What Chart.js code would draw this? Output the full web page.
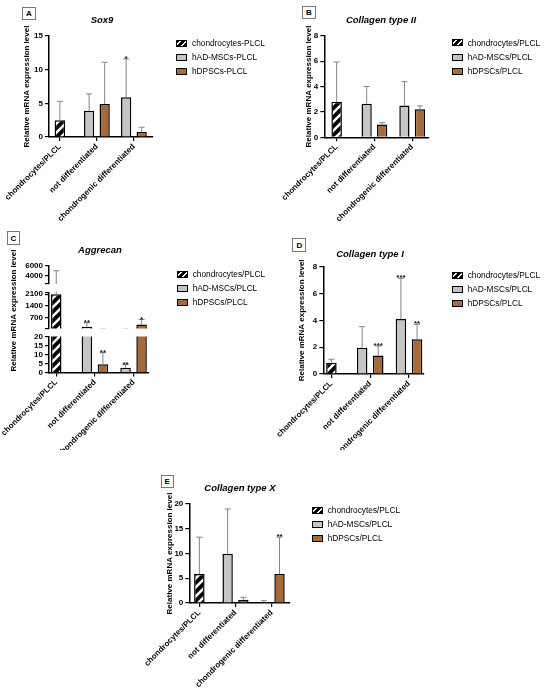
<!DOCTYPE html>
<html>
<head>
<meta charset="utf-8">
<script src="https://cdn.jsdelivr.net/npm/chart.js@4.4.1/dist/chart.umd.min.js"></script>
<style>
  html, body { margin: 0; padding: 0; background: #fff; }
  #page { position: relative; width: 550px; height: 688px; overflow: hidden; font-family: "Liberation Sans", Arial, sans-serif; color: #000; }
  canvas.cv { position: absolute; }
  .letter { position: absolute; border: 1px solid #777; box-sizing: border-box; font-weight: bold; font-size: 8px; display: flex; align-items: center; justify-content: center; background: #fff; }
  .ptitle { position: absolute; font-weight: bold; font-style: italic; font-size: 9.5px; white-space: nowrap; transform: translate(-50%, -50%); }
  .li { position: absolute; height: 10px; display: flex; align-items: center; white-space: nowrap; font-size: 8.3px; }
  .sw { width: 11px; height: 7px; border: 1.3px solid #000; box-sizing: border-box; margin-right: 5px; flex: none; }
</style>
</head>
<body>
<div id="page"></div>
<script>
// ---------- DATA ----------
const categories = ['chondrocytes/PLCL', 'not differentiated', 'chondrogenic differentiated'];
const legendLabelsSox9 = ['chondrocytes-PLCL', 'hAD-MSCs-PLCL', 'hDPSCs-PLCL'];
const legendLabels = ['chondrocytes/PLCL', 'hAD-MSCs/PLCL', 'hDPSCs/PLCL'];
const yAxisTitle = 'Relative mRNA expression level';

// A  Sox9
const sox9Chondrocytes = [2.5, null, null];
const sox9AdMscs = [null, 3.9, 5.9];
const sox9Dpscs = [null, 4.9, 0.75];
const sox9ChondrocytesUpper = [5.3, null, null];
const sox9AdMscsUpper = [null, 6.4, 11.6];
const sox9DpscsUpper = [null, 11.1, 1.45];
const sox9AdMscsStars = ['', '', '*'];
const sox9DpscsStars = ['', '', ''];
const sox9Ticks = [0, 5, 10, 15];

// B  Collagen type II
const col2Chondrocytes = [2.8, null, null];
const col2AdMscs = [null, 2.65, 2.5];
const col2Dpscs = [null, 1.0, 2.2];
const col2ChondrocytesUpper = [5.93, null, null];
const col2AdMscsUpper = [null, 4.0, 4.38];
const col2DpscsUpper = [null, 1.15, 2.47];
const col2Ticks = [0, 2, 4, 6, 8];

// C  Aggrecan (broken axis)
const aggChondrocytes = [2100, null, null];
const aggAdMscs = [null, 140, 2.6];
const aggDpscs = [null, 4.6, 280];
const aggChondrocytesUpper = [5000, null, null];
const aggAdMscsUpper = [null, 380, 4.4];
const aggDpscsUpper = [null, 11, 580];
const aggAdMscsStars = ['', '**', '**'];
const aggDpscsStars = ['', '**', '*'];
const aggTicksLow = [0, 5, 10, 15, 20];
const aggTicksMid = [700, 1400, 2100];
const aggTicksHigh = [4000, 6000];
const aggRangeLow = [0, 20];
const aggRangeMid = [40, 2200];
const aggRangeHigh = [2200, 6000];

// D  Collagen type I
const col1Chondrocytes = [0.84, null, null];
const col1AdMscs = [null, 1.96, 4.1];
const col1Dpscs = [null, 1.37, 2.6];
const col1ChondrocytesUpper = [1.1, null, null];
const col1AdMscsUpper = [null, 3.53, 7.13];
const col1DpscsUpper = [null, 2.09, 3.7];
const col1AdMscsStars = ['', '', '***'];
const col1DpscsStars = ['', '***', '**'];
const col1Ticks = [0, 2, 4, 6, 8];

// E  Collagen type X
const col10Chondrocytes = [5.84, null, null];
const col10AdMscs = [null, 9.93, 0.2];
const col10Dpscs = [null, 0.67, 5.84];
const col10ChondrocytesUpper = [13.3, null, null];
const col10AdMscsUpper = [null, 19.0, 0.47];
const col10DpscsUpper = [null, 1.14, 13.3];
const col10DpscsStars = ['', '', '**'];
const col10Ticks = [0, 5, 10, 15, 20];

// ---------- STYLE ----------
const FONT = '"Liberation Sans", Arial, sans-serif';
const GRAY = '#c5c5c5';
const BROWN = '#a76a3b';
const ERR = '#858585';

const page = document.getElementById('page');

function hatchFor(ctx) {
  const t = document.createElement('canvas');
  t.width = 9; t.height = 9;
  const g = t.getContext('2d');
  g.fillStyle = '#000'; g.fillRect(0, 0, 9, 9);
  g.strokeStyle = '#fff'; g.lineWidth = 2.6;
  g.beginPath();
  g.moveTo(-2, 11); g.lineTo(11, -2);
  g.moveTo(-2, 2); g.lineTo(2, -2);
  g.moveTo(7, 11); g.lineTo(11, 7);
  g.stroke();
  return ctx.createPattern(t, 'repeat');
}

const errorBarPlugin = {
  id: 'errorBars',
  afterDatasetsDraw(chart) {
    const {ctx, chartArea} = chart;
    const yScale = chart.scales.y;
    chart.data.datasets.forEach((ds, di) => {
      const meta = chart.getDatasetMeta(di);
      meta.data.forEach((bar, i) => {
        const v = ds.data[i];
        const u = ds.upper ? ds.upper[i] : null;
        if (v == null || u == null) return;
        const x = bar.x;
        const y0 = yScale.getPixelForValue(v);
        const y1 = yScale.getPixelForValue(u);
        ctx.save();
        ctx.beginPath();
        ctx.rect(chartArea.left - 10, chartArea.top - 1, chartArea.right - chartArea.left + 20, chartArea.bottom - chartArea.top + 1);
        ctx.clip();
        ctx.strokeStyle = ERR;
        ctx.lineWidth = 1;
        ctx.beginPath();
        ctx.moveTo(x, y0);
        ctx.lineTo(x, y1);
        ctx.moveTo(x - 3, y1);
        ctx.lineTo(x + 3, y1);
        ctx.stroke();
        ctx.restore();
        const s = ds.stars ? ds.stars[i] : '';
        if (s && y1 >= chartArea.top - 1 && y1 <= chartArea.bottom) {
          ctx.save();
          ctx.fillStyle = '#111';
          ctx.font = 'bold 8px ' + FONT;
          ctx.textAlign = 'center';
          ctx.textBaseline = 'alphabetic';
          ctx.fillText(s, x, y1 + 2);
          ctx.restore();
        }
      });
    });
  }
};

function makeChart(p, seg) {
  const canvas = document.createElement('canvas');
  canvas.className = 'cv';
  canvas.width = p.width;
  canvas.height = p.height;
  canvas.style.left = p.left + 'px';
  canvas.style.top = p.top + 'px';
  page.appendChild(canvas);
  const ctx = canvas.getContext('2d');
  const fills = [hatchFor(ctx), GRAY, BROWN];
  const datasets = p.series.map((s, k) => ({
    label: p.legend[k],
    data: s.values,
    upper: s.upper,
    stars: s.stars || null,
    backgroundColor: fills[k],
    borderColor: '#000',
    borderWidth: 1.5,
    borderSkipped: 'start',
    clip: 0,
    skipNull: true,
    categoryPercentage: p.catPct,
    barPercentage: 0.66,
    maxBarThickness: 10.5
  }));
  const labelSet = new Set(seg.ticks);
  const allTicks = seg.ticks.concat(seg.breaks || []).sort((a, b) => a - b);
  const tickFont = {family: FONT, size: 8, weight: 'bold'};
  new Chart(canvas, {
    type: 'bar',
    data: {labels: categories, datasets},
    plugins: [errorBarPlugin],
    options: {
      responsive: false,
      animation: false,
      events: [],
      layout: {padding: {left: 0, top: seg.top, right: p.width - p.area.r, bottom: seg.showX ? 0 : p.height - seg.bottom}},
      plugins: {legend: {display: false}, title: {display: false}, tooltip: {enabled: false}},
      scales: {
        x: {
          type: 'category',
          offset: true,
          display: seg.showX,
          grid: {display: true, offset: false, drawOnChartArea: false, drawTicks: true, tickLength: 4, color: '#000', lineWidth: 1.2},
          border: {display: true, color: '#000', width: 1.5},
          ticks: {autoSkip: false, minRotation: 45, maxRotation: 45, padding: 1, color: '#000', font: tickFont},
          afterBuildTicks: (sc) => {
            if ('_startValue' in sc) {
              sc._startValue = -(p.c0 - p.area.l) / p.step;
              sc._valueRange = (p.area.r - p.area.l) / p.step;
            }
          },
          afterFit: (sc) => {
            sc.height = seg.showX ? p.height - seg.bottom : 0;
            sc.paddingLeft = 0; sc.paddingRight = 0;
          }
        },
        y: {
          type: 'linear',
          min: seg.range[0],
          max: seg.range[1],
          afterBuildTicks: (sc) => { sc.ticks = allTicks.map(v => ({value: v})); },
          grid: {display: true, drawOnChartArea: false, drawTicks: true, tickLength: 4, color: '#000', lineWidth: 1.2},
          border: {display: true, color: '#000', width: 1.5},
          ticks: {
            autoSkip: false,
            color: '#000', font: tickFont, padding: 2,
            callback: (v) => labelSet.has(v) ? String(v) : ''
          },
          title: {
            display: !!seg.yTitle,
            text: yAxisTitle,
            color: '#000',
            font: {family: FONT, size: 8, weight: 'bold', lineHeight: 1.2},
            padding: {top: p.yTitleX - 4.8, bottom: 0}
          },
          afterFit: (sc) => {
            sc.width = p.area.l;
            sc.paddingTop = 0; sc.paddingBottom = 0;
          }
        }
      }
    }
  });
}

function decorate(p) {
  const b = document.createElement('div');
  b.className = 'letter';
  b.textContent = p.letter;
  Object.assign(b.style, {left: p.box.x + 'px', top: p.box.y + 'px', width: p.box.w + 'px', height: p.box.h + 'px'});
  page.appendChild(b);
  const t = document.createElement('div');
  t.className = 'ptitle';
  t.textContent = p.title;
  Object.assign(t.style, {left: p.titlePos.x + 'px', top: p.titlePos.y + 'px'});
  page.appendChild(t);
  const swatchStyles = [
    'background: repeating-linear-gradient(-45deg, #000 0px, #000 2.6px, #fff 2.6px, #fff 4.2px);',
    'background:' + GRAY + ';',
    'background:' + BROWN + ';'
  ];
  p.legend.forEach((lab, k) => {
    const li = document.createElement('div');
    li.className = 'li';
    li.style.left = p.legendX + 'px';
    li.style.top = (p.legendY[k] - 5) + 'px';
    const sw = document.createElement('span');
    sw.className = 'sw';
    sw.setAttribute('style', swatchStyles[k]);
    const tx = document.createElement('span');
    tx.textContent = lab;
    li.appendChild(sw); li.appendChild(tx);
    page.appendChild(li);
  });
}

// ---------- PANELS (layout only) ----------
const panels = [
  {
    letter: 'A', title: 'Sox9', left: 0, top: 0, width: 175, height: 225,
    area: {l: 49, r: 153, t: 36, b: 137}, c0: 59.9, step: 37, catPct: 0.84, yTitleX: 26.7,
    titlePos: {x: 102, y: 19.3}, box: {x: 22, y: 7, w: 14, h: 13},
    legend: legendLabelsSox9, legendX: 176, legendY: [43, 57, 71],
    series: [
      {values: sox9Chondrocytes, upper: sox9ChondrocytesUpper},
      {values: sox9AdMscs, upper: sox9AdMscsUpper, stars: sox9AdMscsStars},
      {values: sox9Dpscs, upper: sox9DpscsUpper, stars: sox9DpscsStars}
    ],
    segments: [{range: [0, 15], ticks: sox9Ticks, top: 36, bottom: 137, showX: true, yTitle: true}]
  },
  {
    letter: 'B', title: 'Collagen type II', left: 275, top: 0, width: 175, height: 225,
    area: {l: 49.3, r: 154, t: 35.7, b: 137.3}, c0: 61.65, step: 37.75, catPct: 0.82, yTitleX: 33.3,
    titlePos: {x: 381, y: 19.3}, box: {x: 302, y: 6, w: 14, h: 13},
    legend: legendLabels, legendX: 451.7, legendY: [42.7, 57.3, 71.3],
    series: [
      {values: col2Chondrocytes, upper: col2ChondrocytesUpper},
      {values: col2AdMscs, upper: col2AdMscsUpper},
      {values: col2Dpscs, upper: col2DpscsUpper}
    ],
    segments: [{range: [0, 8], ticks: col2Ticks, top: 35.7, bottom: 137.3, showX: true, yTitle: true}]
  },
  {
    letter: 'C', title: 'Aggrecan', left: 0, top: 225, width: 170, height: 225,
    area: {l: 49, r: 149, t: 41, b: 147.5}, c0: 56.25, step: 38.65, catPct: 0.83, yTitleX: 13.3,
    titlePos: {x: 100, y: 249}, box: {x: 7, y: 231, w: 13, h: 14},
    legend: legendLabels, legendX: 176.7, legendY: [274.3, 288.3, 302.3],
    series: [
      {values: aggChondrocytes, upper: aggChondrocytesUpper},
      {values: aggAdMscs, upper: aggAdMscsUpper, stars: aggAdMscsStars},
      {values: aggDpscs, upper: aggDpscsUpper, stars: aggDpscsStars}
    ],
    segments: [
      {range: aggRangeHigh, ticks: aggTicksHigh, breaks: [aggRangeHigh[0]], top: 41, bottom: 59, showX: false, yTitle: false},
      {range: aggRangeMid, ticks: aggTicksMid, breaks: aggRangeMid, top: 67.5, bottom: 103.5, showX: false, yTitle: true},
      {range: aggRangeLow, ticks: aggTicksLow, top: 111.5, bottom: 147.5, showX: true, yTitle: false}
    ]
  },
  {
    letter: 'D', title: 'Collagen type I', left: 275, top: 225, width: 170, height: 225,
    area: {l: 48.3, r: 149, t: 41.7, b: 149}, c0: 56.4, step: 38.8, catPct: 0.83, yTitleX: 26.7,
    titlePos: {x: 370, y: 253.3}, box: {x: 292.3, y: 238.3, w: 14, h: 14},
    legend: legendLabels, legendX: 451.7, legendY: [275, 289, 303],
    series: [
      {values: col1Chondrocytes, upper: col1ChondrocytesUpper},
      {values: col1AdMscs, upper: col1AdMscsUpper, stars: col1AdMscsStars},
      {values: col1Dpscs, upper: col1DpscsUpper, stars: col1DpscsStars}
    ],
    segments: [{range: [0, 8], ticks: col1Ticks, top: 41.7, bottom: 149, showX: true, yTitle: true}]
  },
  {
    letter: 'E', title: 'Collagen type X', left: 130, top: 455, width: 175, height: 233,
    area: {l: 59.3, r: 159.3, t: 49, b: 148}, c0: 69.35, step: 36.15, catPct: 0.87, yTitleX: 40,
    titlePos: {x: 240, y: 487.3}, box: {x: 160.7, y: 475, w: 13, h: 13},
    legend: legendLabels, legendX: 311.7, legendY: [510, 524.3, 538.3],
    series: [
      {values: col10Chondrocytes, upper: col10ChondrocytesUpper},
      {values: col10AdMscs, upper: col10AdMscsUpper},
      {values: col10Dpscs, upper: col10DpscsUpper, stars: col10DpscsStars}
    ],
    segments: [{range: [0, 20], ticks: col10Ticks, top: 49, bottom: 148, showX: true, yTitle: true}]
  }
];

panels.forEach(p => {
  p.segments.forEach(seg => makeChart(p, seg));
  decorate(p);
});
</script>
</body>
</html>
